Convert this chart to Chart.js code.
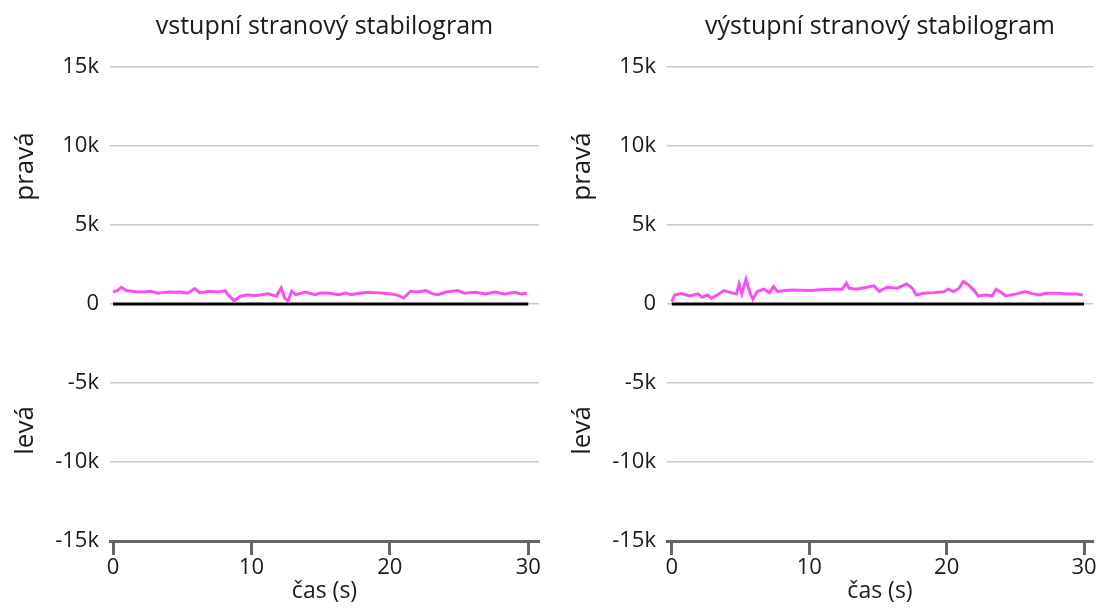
<!DOCTYPE html>
<html>
<head>
<meta charset="utf-8">
<script src="https://cdn.jsdelivr.net/npm/chart.js@4"></script>
<style>
  body { margin: 0; background: #fff; }
  #wrap { position: relative; width: 1108px; height: 611px; }
  .box { position: absolute; top: 0; width: 554px; height: 611px; }
</style>
</head>
<body>
<div id="wrap">
  <div class="box" style="left:0"><canvas id="leftChart"></canvas></div>
  <div class="box" style="left:554px"><canvas id="rightChart"></canvas></div>
</div>
<script>
// vstupní (input) stabilogram
const leftTime = [0, 0.3, 0.6, 0.95, 1.4, 1.8, 2.3, 2.75, 3.25, 3.6, 4.0, 4.5, 4.9, 5.4, 5.9, 6.3,
  6.9, 7.6, 8.1, 8.3, 8.75, 9.2, 9.75, 10.1, 10.5, 11.2, 11.8, 12.15, 12.4, 12.65, 12.9, 13.2,
  13.9, 14.6, 15.0, 15.5, 16.3, 16.8, 17.2, 17.8, 18.4, 19.0, 19.4, 20.1, 20.6, 21.0, 21.5, 22.0,
  22.6, 23.1, 23.5, 24.0, 24.5, 24.9, 25.4, 25.8, 26.2, 26.9, 27.6, 28.3, 29.0, 29.5, 29.9]
const leftValues = [760, 850, 1060, 850, 800, 760, 780, 810, 680, 720, 760, 740, 760, 680, 975, 700,
  810, 760, 850, 590, 210, 490, 590, 540, 550, 640, 490, 1020, 380, 210, 810, 590,
  760, 590, 700, 700, 590, 700, 590, 680, 740, 720, 700, 640, 550, 380, 810, 760,
  850, 640, 590, 740, 800, 850, 680, 720, 740, 640, 760, 640, 740, 640, 680]

// výstupní (output) stabilogram
const rightTime = [0, 0.2, 0.7, 1.3, 1.9, 2.2, 2.6, 2.9, 3.3, 3.8, 4.3, 4.7, 4.9, 5.1, 5.4, 5.7,
  5.9, 6.2, 6.7, 7.1, 7.4, 7.7, 8.2, 8.7, 9.4, 10.1, 10.8, 11.6, 12.4, 12.7, 12.9, 13.4,
  14.2, 14.7, 15.1, 15.65, 16.4, 17.1, 17.5, 17.8, 18.3, 19.1, 19.8, 20.1, 20.5, 20.9, 21.2, 21.6,
  22.0, 22.3, 22.9, 23.3, 23.6, 24.0, 24.3, 25.1, 25.7, 26.3, 26.8, 27.2, 28.2, 28.7, 29.4, 29.9]
const rightValues = [150, 570, 660, 510, 640, 430, 570, 360, 570, 850, 720, 640, 1270, 640, 1570, 680,
  300, 780, 935, 720, 1100, 780, 850, 890, 870, 850, 900, 935, 935, 1320, 1000, 935,
  1060, 1150, 800, 1060, 1000, 1270, 1000, 570, 680, 720, 780, 935, 780, 1000, 1420, 1210,
  850, 510, 570, 510, 935, 720, 510, 640, 780, 640, 570, 680, 680, 640, 640, 570]

const zeroTime = [0, 30]
const zeroValues = [0, 0]

const yTicks = [-15000, -10000, -5000, 0, 5000, 10000, 15000]
const xTicks = [0, 10, 20, 30]
const titles = ['vstupní stranový stabilogram', 'výstupní stranový stabilogram']
const sideLabels = { top: 'pravá', bottom: 'levá' }
const xTitle = 'čas (s)'

const FONT = 'Open Sans'
const TEXT = '#1a1a1a'

function toPoints(xs, ys) {
    return xs.map((x, i) => ({ x: x, y: ys[i] }))
}

// rotated "pravá" / "levá" labels beside the y axis
const sideLabelPlugin = {
    id: 'sideLabels',
    afterDraw (chart) {
        const ctx = chart.ctx
        const y = chart.scales.y
        const x = chart.chartArea.left - 84
        ctx.save()
        ctx.fillStyle = TEXT
        ctx.font = '26px "' + FONT + '"'
        ctx.textAlign = 'center'
        ctx.textBaseline = 'middle'
        const items = [[sideLabels.top, 8700], [sideLabels.bottom, -8000]]
        for (const [txt, v] of items) {
            ctx.save()
            ctx.translate(x, y.getPixelForValue(v))
            ctx.rotate(-Math.PI / 2)
            ctx.fillText(txt, 0, 0)
            ctx.restore()
        }
        ctx.restore()
    }
}

function buildChart (id, title, times, values, yWidth, xMin) {
    const ctx = document.getElementById(id)
    return new Chart(ctx, {
        type: 'line',
        data: {
            datasets: [{
                data: toPoints(times, values),
                borderColor: '#f94ef5',
                borderWidth: 3,
                pointRadius: 0,
                tension: 0,
                order: 1
            }, {
                data: toPoints(zeroTime, zeroValues),
                borderColor: '#000000',
                borderWidth: 3,
                pointRadius: 0,
                order: 2
            }]
        },
        options: {
            responsive: true,
            maintainAspectRatio: false,
            animation: false,
            layout: { padding: { left: 0, right: 15, top: 0, bottom: 0 } },
            plugins: {
                legend: { display: false },
                tooltip: { enabled: false },
                title: {
                    display: true,
                    text: title,
                    fullSize: false,
                    color: TEXT,
                    font: { family: FONT, size: 25, weight: 'normal' },
                    padding: { top: 12, bottom: 25 }
                }
            },
            scales: {
                x: {
                    type: 'linear',
                    min: xMin,
                    max: xMin + 31,
                    afterFit (scale) { scale.height = 70 },
                    afterBuildTicks (scale) { scale.ticks = xTicks.map(v => ({ value: v })) },
                    ticks: {
                        color: TEXT,
                        font: { family: FONT, size: 22 },
                        padding: 0,
                        maxRotation: 0,
                        includeBounds: false
                    },
                    grid: {
                        drawOnChartArea: false,
                        drawTicks: true,
                        tickLength: 14,
                        tickWidth: 3,
                        tickColor: '#666666'
                    },
                    border: { display: true, color: '#666666', width: 3 },
                    title: {
                        display: true,
                        text: xTitle,
                        color: TEXT,
                        font: { family: FONT, size: 23 },
                        padding: { top: 0, bottom: 6 }
                    }
                },
                y: {
                    min: -15000,
                    max: 15000,
                    afterFit (scale) { scale.width = yWidth },
                    afterBuildTicks (scale) { scale.ticks = yTicks.map(v => ({ value: v })) },
                    ticks: {
                        color: TEXT,
                        font: { family: FONT, size: 22 },
                        padding: 11,
                        callback: v => v === 0 ? '0' : (v / 1000) + 'k'
                    },
                    grid: {
                        color: '#c8c8c8',
                        lineWidth: 1.5,
                        drawTicks: false
                    },
                    border: { display: false }
                }
            }
        },
        plugins: [sideLabelPlugin]
    })
}

buildChart('leftChart', titles[0], leftTime, leftValues, 110, -0.22)
buildChart('rightChart', titles[1], rightTime, rightValues, 113, -0.35)
</script>
</body>
</html>
